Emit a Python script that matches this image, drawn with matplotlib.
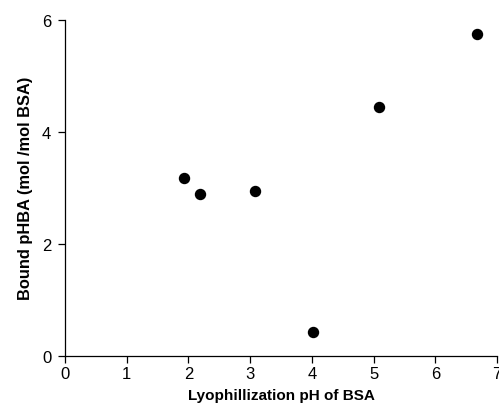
import matplotlib
matplotlib.use('Agg')
import matplotlib.pyplot as plt

plt.rcParams['font.family'] = ['Liberation Sans', 'DejaVu Sans']

# Lyophilization pH vs bound pHBA
ph = [1.93, 2.18, 3.08, 4.02, 5.08, 6.68]
bound = [3.18, 2.89, 2.94, 0.42, 4.45, 5.75]

fig = plt.figure(figsize=(4.99, 4.06), dpi=100)
ax = fig.add_axes([0.1303, 0.1214, 0.8657, 0.8276])

ax.plot(ph, bound, 'o', color='black', markersize=7.2, clip_on=False)

ax.set_xlim(0, 7)
ax.set_ylim(0, 6)
ax.set_xticks(range(0, 8))
ax.set_yticks([0, 2, 4, 6])
ax.spines['top'].set_visible(False)
ax.spines['right'].set_visible(False)
for sp in ['left', 'bottom']:
    ax.spines[sp].set_linewidth(0.9)
ax.tick_params(direction='out', length=5, width=0.9, labelsize=12)
ax.tick_params(axis='x', pad=2.5)
ax.tick_params(axis='y', pad=5)

ax.set_xlabel('Lyophillization pH of BSA', fontsize=11, fontweight='bold', labelpad=5)
ax.set_ylabel('Bound pHBA (mol /mol BSA)', fontsize=11.8, fontweight='bold', labelpad=6)

fig.savefig('out.png', dpi=100)
